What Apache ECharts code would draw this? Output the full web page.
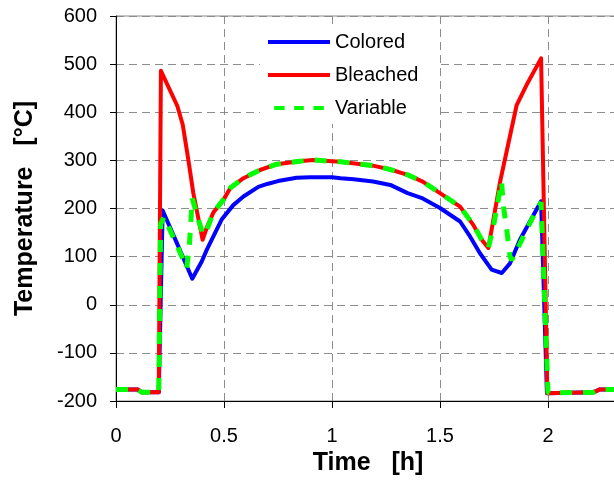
<!DOCTYPE html>
<html>
<head>
<meta charset="utf-8">
<script src="https://cdn.jsdelivr.net/npm/echarts@6/dist/echarts.min.js"></script>
<style>html,body{margin:0;padding:0;background:#fff}#c{width:614px;height:493px}</style>
</head>
<body>
<div id="c"></div>
<script>
// Data
var seriesNames = ['Colored', 'Bleached', 'Variable'];
var xTicks = [0, 0.5, 1, 1.5, 2, 2.5];
var yTicks = [-200, -100, 0, 100, 200, 300, 400, 500, 600];

var tColored = [0, 0.1, 0.12, 0.198, 0.216, 0.281, 0.353, 0.397, 0.42, 0.489, 0.543, 0.59, 0.659, 0.7, 0.75, 0.836, 0.9, 1.0, 1.04, 1.1, 1.19, 1.27, 1.35, 1.42, 1.5, 1.593, 1.639, 1.685, 1.739, 1.786, 1.824, 1.87, 1.968, 1.995, 2.21, 2.24, 2.35];
var vColored = [-176, -176, -182, -182, 196, 129, 54, 90, 114, 177, 207, 225, 245, 251, 257, 264, 265, 265, 263, 261, 256, 249, 232, 221, 201, 173, 142, 107, 73, 66, 86, 135, 215, -184, -182, -176, -176];

var tBleached = [0, 0.1, 0.12, 0.198, 0.208, 0.284, 0.309, 0.335, 0.358, 0.401, 0.42, 0.45, 0.5, 0.53, 0.59, 0.667, 0.744, 0.85, 0.91, 1.0, 1.04, 1.19, 1.27, 1.35, 1.42, 1.5, 1.593, 1.654, 1.693, 1.724, 1.778, 1.855, 1.9, 1.968, 1.997, 2.21, 2.24, 2.35];
var vBleached = [-176, -176, -182, -182, 486, 413, 374, 301, 232, 135, 160, 191, 220, 243, 263, 280, 292, 298, 301, 298, 297, 289, 281, 270, 256, 232, 204, 166, 135, 118, 255, 415, 456, 512, -184, -182, -176, -176];

var tVariable = [0, 0.1, 0.12, 0.198, 0.207, 0.222, 0.281, 0.327, 0.339, 0.353, 0.381, 0.404, 0.42, 0.45, 0.5, 0.53, 0.59, 0.667, 0.744, 0.85, 0.91, 1.0, 1.04, 1.19, 1.27, 1.35, 1.42, 1.5, 1.593, 1.654, 1.693, 1.724, 1.747, 1.785, 1.793, 1.809, 1.824, 1.832, 1.845, 1.901, 1.955, 1.968, 2.0, 2.21, 2.24, 2.35];
var vVariable = [-176, -176, -182, -182, 168, 182, 125, 76, 118, 221, 177, 145, 155, 191, 220, 243, 263, 280, 292, 298, 301, 298, 297, 289, 281, 270, 256, 232, 204, 166, 135, 118, 162, 256, 207, 156, 100, 93, 103, 156, 204, 213, -183, -182, -176, -176];

function pairs(t, v) { return t.map(function (x, i) { return [x, v[i]]; }); }

var chart = echarts.init(document.getElementById('c'), null, {renderer: 'canvas'});
var font = 'Liberation Sans, Arial, sans-serif';
chart.setOption({
  animation: false,
  backgroundColor: '#fff',
  grid: {
    left: 116, top: 16, width: 540, height: 385,
    show: true, borderColor: '#888', borderWidth: 1, backgroundColor: 'transparent',
    containLabel: false, outerBoundsMode: 'none'
  },
  legend: {
    orient: 'vertical', left: 260, top: 24,
    padding: [7, 20, 5, 8],
    backgroundColor: '#fff',
    itemWidth: 62, itemHeight: 4, itemGap: 11,
    data: [
      {name: seriesNames[0], icon: 'rect'},
      {name: seriesNames[1], icon: 'rect'},
      {name: seriesNames[2], icon: 'path://M0,0H13V5H0Z M25,0H37V5H25Z M49,0H62V5H49Z'}
    ],
    textStyle: {fontFamily: font, fontSize: 20, color: '#000', lineHeight: 22}
  },
  xAxis: {
    type: 'value', min: xTicks[0], max: xTicks[xTicks.length - 1], interval: 0.5,
    name: 'Time   [h]', nameLocation: 'middle', nameGap: 45,
    nameTextStyle: {fontFamily: font, fontSize: 25, fontWeight: 'bold', color: '#000', padding: [0, 36, 0, 0]},
    axisLine: {show: true, onZero: false, lineStyle: {color: '#000', width: 1}},
    axisTick: {show: true, inside: false, length: 7, lineStyle: {color: '#000'}},
    axisLabel: {fontFamily: font, fontSize: 20, color: '#000', margin: 25},
    splitLine: {show: true, lineStyle: {color: '#8c8c8c', type: [8, 5], width: 1}}
  },
  yAxis: {
    type: 'value', min: yTicks[0], max: yTicks[yTicks.length - 1], interval: 100,
    name: 'Temperature   [°C]', nameLocation: 'middle', nameGap: 78, nameRotate: 90,
    nameTextStyle: {fontFamily: font, fontSize: 25, fontWeight: 'bold', color: '#000'},
    axisLine: {show: true, onZero: false, lineStyle: {color: '#000', width: 1}},
    axisTick: {show: true, inside: false, length: 6, lineStyle: {color: '#000'}},
    axisLabel: {fontFamily: font, fontSize: 20, color: '#000', margin: 19},
    splitLine: {show: true, lineStyle: {color: '#8c8c8c', type: [8, 5], width: 1}}
  },
  series: [
    {name: seriesNames[0], type: 'line', data: pairs(tColored, vColored), symbol: 'none', showSymbol: false,
     lineStyle: {color: '#0000ff', width: 4, join: 'round'}, itemStyle: {color: '#0000ff'}, z: 2},
    {name: seriesNames[1], type: 'line', data: pairs(tBleached, vBleached), symbol: 'none', showSymbol: false,
     lineStyle: {color: '#ff0000', width: 4, join: 'round'}, itemStyle: {color: '#ff0000'}, z: 3},
    {name: seriesNames[2], type: 'line', data: pairs(tVariable, vVariable), symbol: 'none', showSymbol: false,
     lineStyle: {color: '#00ff00', width: 5, type: [12, 11]}, itemStyle: {color: '#00ff00'}, z: 4}
  ]
});
</script>
</body>
</html>
